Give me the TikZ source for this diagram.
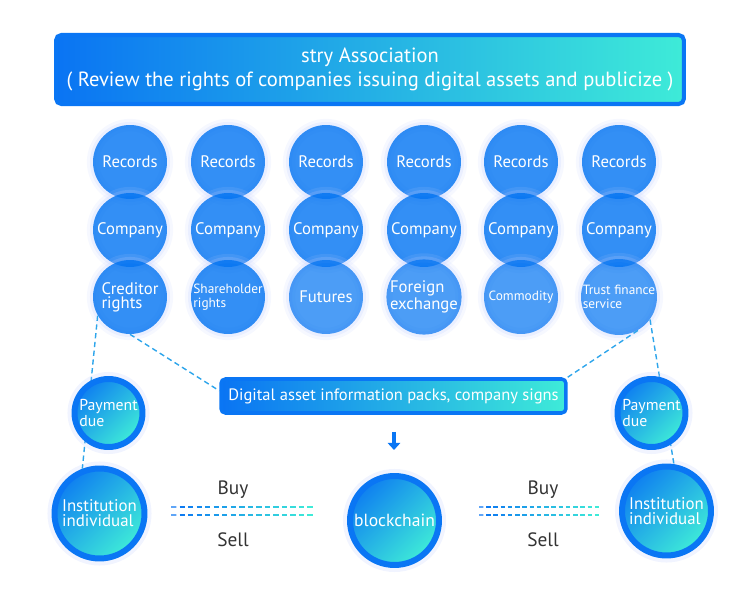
\documentclass[tikz,border=0pt]{standalone}
\usepackage{fontspec}
\setmainfont{PT Sans}
\usetikzlibrary{positioning, arrows.meta, calc}
\definecolor{bandblue}{RGB}{10,116,243}
\definecolor{bandcyan}{RGB}{62,235,216}
\definecolor{ringblue}{RGB}{10,118,244}
\definecolor{dotblue}{RGB}{0,115,242}
\definecolor{glowblue}{RGB}{185,200,255}
\definecolor{linkblue}{RGB}{45,165,235}
\definecolor{textgray}{RGB}{51,51,51}

\begin{document}
\begin{tikzpicture}[
    x=0.02cm, y=-0.02cm,
    dot/.style={circle, fill=dotblue, fill opacity=0.8, text opacity=1, text=white, minimum size=1.48cm, inner sep=0pt, align=left, font=\fontsize{9.5}{8}\selectfont,
        preaction={draw=glowblue, line width=7pt, draw opacity=0.12}, preaction={draw=glowblue, line width=3.5pt, draw opacity=0.2}},
    light/.style={fill opacity=0.7},
    small/.style={font=\fontsize{7.6}{7.6}\selectfont},
    gdot/.style={circle, draw=ringblue, line width=3.4pt, top color=bandblue!90!bandcyan, bottom color=bandcyan, shading angle=45, text=white, inner sep=0pt, align=left,
        preaction={draw=glowblue, line width=8pt, draw opacity=0.2}},
    band/.style={draw=ringblue, line width=2.3pt, rounded corners=3pt, left color=bandblue, right color=bandcyan, text=white, align=center},
    link/.style={linkblue, line width=0.8pt, dash pattern=on 3pt off 2pt},
    trade/.style={line width=0.7pt},
    word/.style={textgray, font=\fontsize{11}{11}\selectfont}
]
    \useasboundingbox (0,0) rectangle (751,594);

    % Bandeau
    \node[band, minimum width=12.56cm, minimum height=1.38cm, font=\fontsize{11.7}{13.6}\selectfont] (assoc) at (370,69.5)
        {stry Association\\( Review the rights of companies issuing digital assets and publicize )};

    % Records
    \node[dot] (rec1) at (130,162) {Records};
    \node[dot] (rec2) at (228,162) {Records};
    \node[dot] (rec3) at (326,162) {Records};
    \node[dot] (rec4) at (424,162) {Records};
    \node[dot] (rec5) at (521,162) {Records};
    \node[dot] (rec6) at (619,162) {Records};

    % Company
    \node[dot] (com1) at (130,230) {Company};
    \node[dot] (com2) at (228,230) {Company};
    \node[dot] (com3) at (326,230) {Company};
    \node[dot] (com4) at (424,230) {Company};
    \node[dot] (com5) at (521,230) {Company};
    \node[dot] (com6) at (619,230) {Company};

    % Types d'actifs
    \node[dot] (cred) at (130,297) {Creditor\\rights};
    \node[dot, small] (share) at (228,297) {Shareholder\\rights};
    \node[dot, light] (fut) at (326,297) {Futures};
    \node[dot, light] (forex) at (424,297) {Foreign\\exchange};
    \node[dot, light, small] (comm) at (521,297) {Commodity};
    \node[dot, light, small] (trust) at (619,297) {Trust finance\\service};

    % Paquet d'informations
    \node[band, minimum width=6.9cm, minimum height=0.68cm, line width=2pt, rounded corners=2.5pt, font=\fontsize{9.4}{9.4}\selectfont] (info) at (393.5,396)
        {Digital asset information packs, company signs};
    \coordinate (arrtop) at (394,432);
    \coordinate (arrbot) at (394,450);
    \draw[-{Triangle[width=7pt, length=4pt]}, ringblue, line width=2pt] (arrtop) -- (arrbot);

    % Acteurs et blockchain
    \node[gdot, minimum size=1.8cm, font=\fontsize{9.6}{8.6}\selectfont] (inst1) at (99.5,513.5) {Institution\\individual};
    \node[gdot, minimum size=1.78cm, font=\fontsize{10}{10}\selectfont] (chain) at (394.5,520.5) {blockchain};
    \node[gdot, minimum size=1.78cm, font=\fontsize{9.6}{8.6}\selectfont] (inst2) at (666.5,511) {Institution\\individual};

    % Liens
    \draw[link] (cred.210) -- (inst1.111);
    \draw[link] (cred.270) -- ([yshift=3pt]info.west);
    \draw[link] (info.north east) -- (trust.303);
    \draw[link] (trust.324) -- (inst2.81);

    % Paiement
    \node[gdot, minimum size=1.36cm, font=\fontsize{9}{7.4}\selectfont] (pay1) at (108.5,413) {Payment\\due};
    \node[gdot, minimum size=1.36cm, font=\fontsize{9}{7.4}\selectfont] (pay2) at (651.5,413) {Payment\\due};

    % Achat / vente
    \coordinate (buyA) at (171,507);  \coordinate (buyB) at (316,507);
    \coordinate (sellA) at (171,515); \coordinate (sellB) at (316,515);
    \coordinate (buyC) at (479,507);  \coordinate (buyD) at (602,507);
    \coordinate (sellC) at (479,515); \coordinate (sellD) at (602,515);
    \foreach \a/\b in {buyA/buyB, sellA/sellB, buyC/buyD, sellC/sellD}
        \foreach \i in {0,...,16} {
            \pgfmathtruncatemacro\p{100*\i/16}
            \draw[trade, bandcyan!\p!bandblue] ($(\a)!\i/17!(\b)$) -- ($(\a)!\i/17+0.62/17!(\b)$);
        }
    \node[word] (buy1) at (233,490) {Buy};
    \node[word] (sell1) at (233,540) {Sell};
    \node[word] (buy2) at (543,490) {Buy};
    \node[word] (sell2) at (543,540) {Sell};
\end{tikzpicture}
\end{document}
